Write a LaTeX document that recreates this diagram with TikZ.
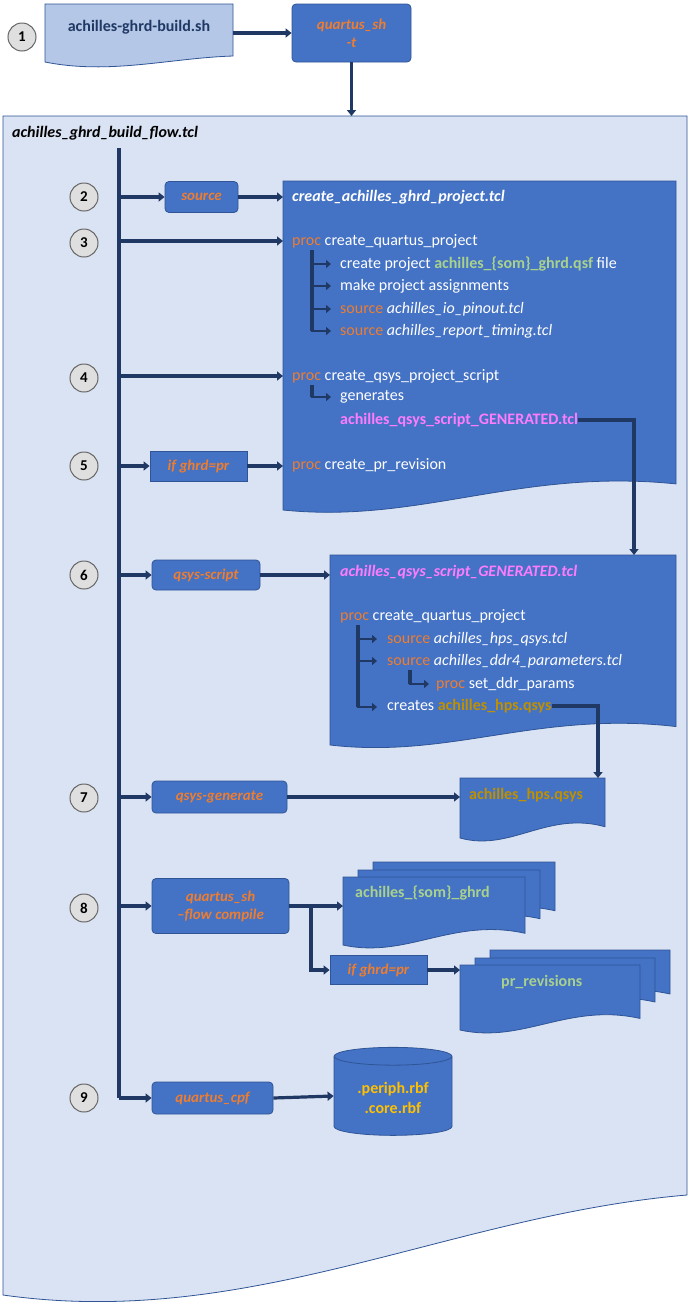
\documentclass[tikz,border=0pt]{standalone}
\usepackage{fontspec}
\setmainfont{Carlito}
\usetikzlibrary{arrows.meta,shapes.geometric}
\definecolor{dk}{HTML}{203864}
\definecolor{bl}{HTML}{4472C4}
\definecolor{bd}{HTML}{2F5597}
\definecolor{lb}{HTML}{DAE3F3}
\definecolor{sb}{HTML}{B4C7E7}
\definecolor{org}{HTML}{ED7D31}
\definecolor{grn}{HTML}{A9D18E}
\definecolor{pnk}{HTML}{FF7CFF}
\definecolor{gold}{HTML}{BF9000}
\definecolor{yel}{HTML}{FFC000}
\newcommand{\wdoc}[5][bl]{%
  \path[draw=bd,fill=#1,line width=0.8pt] (#2,#3) -- (#4,#3) -- (#4,{#5-0.055*(#5-#3)-8})
   .. controls ({#2+0.6*(#4-#2)},{#5-0.055*(#5-#3)-24}) and ({#2+0.35*(#4-#2)},{#5+14}) .. (#2,#5) -- cycle;}
\tikzset{
 x=1pt,y=-1pt,
 con/.style={draw=dk,line width=3.2pt,-{Triangle[length=6pt,width=9pt]}},
 ln/.style={draw=dk,line width=3.2pt},
 sub/.style={draw=dk,line width=2.6pt,-{Triangle[length=5pt,width=8pt]}},
 num/.style={circle,draw=gray!80!black,fill=gray!25,line width=1pt,minimum size=28pt,inner sep=0pt,font=\fontsize{15}{15}\selectfont\bfseries},
 rbox/.style={rounded corners=4pt,draw=bd,fill=bl,line width=0.8pt,text=org,font=\fontsize{15}{18}\selectfont\bfseries\itshape,align=center,inner sep=0pt},
 sbox/.style={draw=bd,fill=bl,line width=0.8pt,text=org,font=\fontsize{15}{18}\selectfont\bfseries\itshape,align=center,inner sep=0pt},
 tx/.style={anchor=west,text=white,font=\fontsize{16}{19}\selectfont,inner sep=0pt},
 ttl/.style={anchor=west,font=\fontsize{16}{19}\selectfont\bfseries\itshape,inner sep=0pt},
}
\newcommand{\kw}[1]{\textcolor{org}{#1}}
\begin{document}
\begin{tikzpicture}
\useasboundingbox (0,0) rectangle (691,1315);
\fill[white] (0,0) rectangle (691,1315);
% big doc
\path[draw=bd,fill=lb,line width=0.8pt] (3,116) -- (687,116) -- (687,1195)
  .. controls (450,1215) and (250,1330) .. (3,1295) -- cycle;
% top
\path[draw=bd,fill=sb,line width=0.8pt] (45,4) -- (233,4) -- (233,56) .. controls (170,58) and (110,75) .. (45,62) -- cycle;
\node[anchor=center,text=dk,font=\fontsize{16}{19}\selectfont\bfseries] (sh) at (139,27) {achilles-ghrd-build.sh};
\coordinate (shr) at (233,33);
\node[num] (n1) at (22,37) {1};
\node[rbox,minimum width=119pt,minimum height=58pt] (qt) at (351.5,33) {quartus\_sh\\-t};
\coordinate (bigtop) at (351.5,116);
\draw[con] (shr) -- (qt.west);
\draw[con] (qt.south) -- (bigtop);
\node[ttl,text=black] (flow) at (12,133) {achilles\_ghrd\_build\_flow.tcl};
\coordinate (vt) at (119,148); \coordinate (vb) at (119,1098);
\draw[ln] (vt) -- (vb);
% numbers
\foreach \n/\y in {2/197,3/243,4/378,5/466,6/575,7/798,8/908,9/1098}
  \node[num] (n\n) at (84,\y) {\n};
% doc A
\wdoc{283}{181}{676}{510}
\node[ttl,text=white] (dA) at (292,197) {create\_achilles\_ghrd\_project.tcl};
\node[rbox,minimum width=73pt,minimum height=31pt] (src) at (201.5,197) {source};
\coordinate (a2) at (119,197); \coordinate (dAl) at (283,197);
\draw[con] (a2) -- (src.west); \draw[con] (src.east) -- (dAl);
\coordinate (a3) at (119,241); \coordinate (dA3) at (283,241);
\draw[con] (a3) -- (dA3);
\node[tx] (p1) at (292,241) {\kw{proc} create\_quartus\_project};
\node[tx] (p1a) at (340,264) {create project \textcolor{grn}{\bfseries achilles\_\{som\}\_ghrd.qsf} file};
\node[tx] (p1b) at (340,286) {make project assignments};
\node[tx] (p1c) at (340,309) {\kw{source} \itshape achilles\_io\_pinout.tcl};
\node[tx] (p1d) at (340,331) {\kw{source} \itshape achilles\_report\_timing.tcl};
\coordinate (b1) at (312,250);
\draw[ln] (b1) -- (312,331);
\foreach \y in {264,286,309,331} \draw[sub] (311,\y) -- (331,\y);
\coordinate (a4) at (119,376); \coordinate (dA4) at (283,376);
\draw[con] (a4) -- (dA4);
\node[tx] (p2) at (292,376) {\kw{proc} create\_qsys\_project\_script};
\node[tx] (p2a) at (340,397) {generates};
\node[tx,text=pnk,font=\fontsize{16}{19}\selectfont\bfseries] (p2b) at (340,420) {achilles\_qsys\_script\_GENERATED.tcl};
\draw[ln] (312,385) -- (312,397); \draw[sub] (311,397) -- (331,397);
\node[sbox,minimum width=97pt,minimum height=30pt] (if1) at (198.5,466) {if ghrd=pr};
\coordinate (a5) at (119,466); \coordinate (dA5) at (283,466);
\draw[con] (a5) -- (if1.west); \draw[con] (if1.east) -- (dA5);
\node[tx] (p3) at (292,465) {\kw{proc} create\_pr\_revision};
% doc B
\wdoc{330}{555}{676}{745}
\coordinate (dBt) at (634,555);
\draw[con] (p2b.east) -- (634,420) -- (dBt);
\node[ttl,text=pnk] (dB) at (340,572) {achilles\_qsys\_script\_GENERATED.tcl};
\node[rbox,minimum width=108pt,minimum height=30pt] (qs) at (206,575) {qsys-script};
\coordinate (a6) at (119,575); \coordinate (dBl) at (330,575);
\draw[con] (a6) -- (qs.west); \draw[con] (qs.east) -- (dBl);
\node[tx] (q1) at (340,616) {\kw{proc} create\_quartus\_project};
\node[tx] (q1a) at (387,639) {\kw{source} \itshape achilles\_hps\_qsys.tcl};
\node[tx] (q1b) at (387,661) {\kw{source} \itshape achilles\_ddr4\_parameters.tcl};
\node[tx] (q1c) at (436,684) {\kw{proc} set\_ddr\_params};
\node[tx] (q1d) at (387,706) {creates \textcolor{gold}{\bfseries achilles\_hps.qsys}};
\draw[ln] (358,625) -- (358,707);
\foreach \y in {639,661,707} \draw[sub] (357,\y) -- (377,\y);
\draw[ln] (410,670) -- (410,684); \draw[sub] (409,684) -- (429,684);
% doc C
\wdoc{460}{778}{605}{838}
\coordinate (dCt) at (598,778);
\draw[con] (q1d.east) -- (598,706) -- (dCt);
\node[tx,text=gold,font=\fontsize{16}{19}\selectfont\bfseries] (dC) at (469,795) {achilles\_hps.qsys};
\node[rbox,minimum width=135pt,minimum height=32pt] (qg) at (219.5,797) {qsys-generate};
\coordinate (a7) at (119,797); \coordinate (dCl) at (460,797);
\draw[con] (a7) -- (qg.west); \draw[con] (qg.east) -- (dCl);
% doc D stacked
\wdoc{373}{862}{555}{922}
\wdoc{358}{870}{540}{930}
\wdoc{343}{877}{525}{945}
\node[tx,text=grn,font=\fontsize{16}{19}\selectfont\bfseries] (dD) at (355,893) {achilles\_\{som\}\_ghrd};
\node[rbox,minimum width=137pt,minimum height=55pt] (qc) at (220.5,906) {quartus\_sh\\--flow compile};
\coordinate (a8) at (119,906); \coordinate (dDl) at (343,906);
\draw[con] (a8) -- (qc.west); \draw[con] (qc.east) -- (dDl);
% doc E stacked
\wdoc{490}{950}{670}{1005}
\wdoc{475}{958}{655}{1013}
\wdoc{460}{965}{640}{1030}
\node[tx,text=grn,font=\fontsize{16}{19}\selectfont\bfseries] (dE) at (501,982) {pr\_revisions};
\node[sbox,minimum width=97pt,minimum height=29pt] (if2) at (378.5,970) {if ghrd=pr};
\coordinate (br) at (311,906); \coordinate (dEl) at (460,970);
\draw[con] (br) -- (311,970) -- (if2.west);
\draw[con] (if2.east) -- (dEl);
% cylinder
\node[cylinder,shape border rotate=90,aspect=0.25,draw=bd,fill=bl,line width=0.8pt,minimum width=118pt,minimum height=88pt,inner sep=0pt,text=yel,font=\fontsize{16}{20}\selectfont\bfseries,align=center] (cyl) at (393,1096) {\\[-4pt].periph.rbf\\.core.rbf};
\node[rbox,minimum width=121pt,minimum height=32pt] (cpf) at (212.5,1098) {quartus\_cpf};
\draw[con] (vb) -- (cpf.west); \draw[con] (cpf.east) -- (cyl.west);
\end{tikzpicture}
\end{document}
